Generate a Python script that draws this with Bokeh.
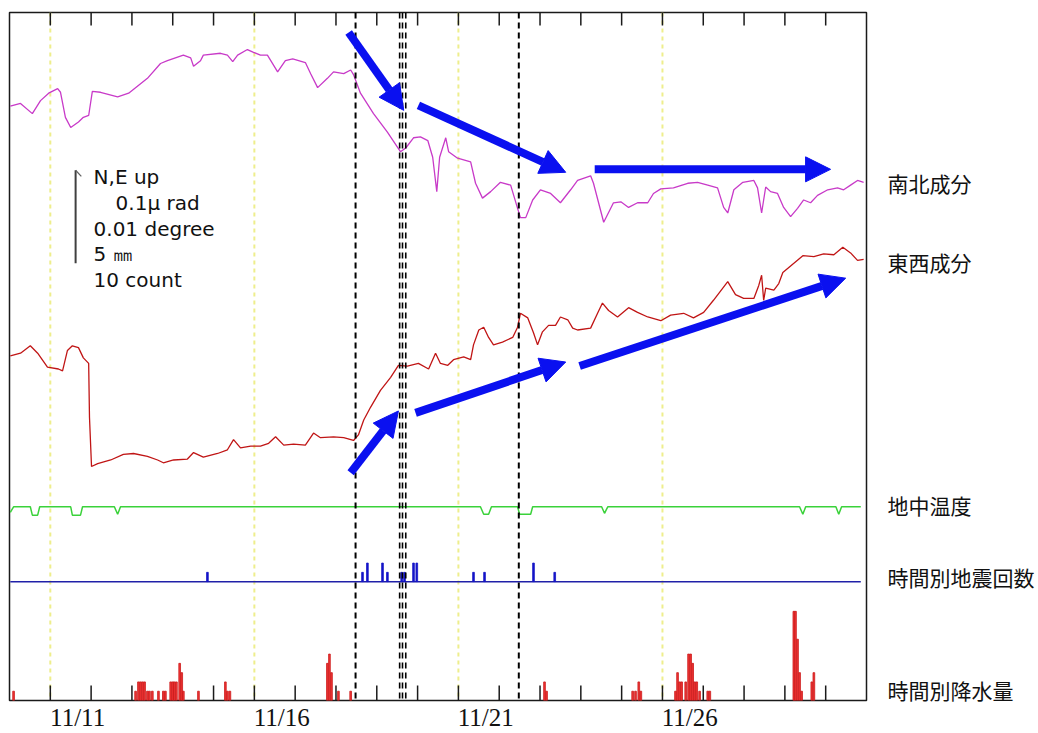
from bokeh.plotting import figure
from bokeh.models import Range1d, Span, Label, Arrow, NormalHead, LinearAxis, FixedTicker
from bokeh.embed import file_html
from bokeh.resources import INLINE

# Time axis: days counted from 11/10 00:00 (x = 1 -> 11/11 00:00)
day_labels = ["11/11", "11/16", "11/21", "11/26"]
day_label_pos = [1, 6, 11, 16]
tick_days = list(range(1, 21))

# Tilt, north-south component (nrad, relative to start)
ns_t = [0.02, 0.27, 0.56, 0.76, 0.96, 1.18, 1.25, 1.37, 1.50, 1.69, 1.81, 1.94, 2.03, 2.23, 2.65, 2.92,
        3.38, 3.70, 3.87, 4.26, 4.44, 4.51, 4.68, 4.75, 5.17, 5.34, 5.47, 5.59, 5.83, 5.98, 6.15, 6.32,
        6.57, 6.76, 6.94, 7.25, 7.38, 7.55, 7.79, 7.94, 8.19, 8.36, 8.43, 8.60, 8.92, 9.26, 9.58, 9.71,
        9.90, 10.07, 10.25, 10.37, 10.47, 10.54, 10.69, 10.76, 10.98, 11.30, 11.42, 11.59, 11.79, 12.03,
        12.28, 12.45, 12.52, 12.65, 12.82, 13.01, 13.26, 13.50, 13.75, 13.92, 14.24, 14.31, 14.56, 14.80,
        14.98, 15.17, 15.39, 15.64, 15.78, 15.96, 16.27, 16.62, 16.86, 17.11, 17.35, 17.50, 17.60, 17.75,
        17.97, 18.24, 18.33, 18.43, 18.53, 18.65, 18.82, 18.97, 19.14, 19.31, 19.46, 19.63, 19.80, 20.05,
        20.29, 20.44, 20.61, 20.78, 20.93]
ns_v = [0, 3, -8, 6, 14, 19, 15, -12, -23, -17, -12, -10, 16, 15, 10, 14,
        30, 46, 49, 55, 52, 43, 49, 55, 57, 55, 48, 55, 61, 58, 55, 55,
        37, 49, 51, 47, 35, 20, 30, 37, 35, 39, 34, 14, -8, -28, -49, -45,
        -34, -33, -37, -55, -92, -55, -34, -49, -56, -60, -83, -99, -92, -82,
        -85, -110, -120, -120, -101, -90, -94, -104, -90, -80, -75, -83, -125, -104,
        -103, -109, -104, -104, -94, -89, -88, -83, -82, -85, -88, -109, -115, -90,
        -82, -80, -88, -115, -87, -92, -94, -109, -119, -110, -101, -104, -96, -90,
        -88, -90, -85, -80, -82]

# Tilt, east-west component (nrad, relative to start)
ew_t = [0.02, 0.27, 0.51, 0.69, 0.93, 1.20, 1.30, 1.42, 1.54, 1.69, 1.81, 1.94, 1.96, 2.01, 2.16, 2.48,
        2.79, 3.04, 3.38, 3.63, 3.77, 4.02, 4.36, 4.51, 4.75, 5.10, 5.34, 5.49, 5.66, 5.91, 6.15, 6.35,
        6.52, 6.72, 6.96, 7.25, 7.45, 7.62, 7.94, 8.19, 8.43, 8.55, 8.68, 8.85, 9.09, 9.34, 9.53, 9.75,
        10.02, 10.27, 10.44, 10.56, 10.74, 10.88, 11.13, 11.30, 11.37, 11.50, 11.62, 11.74, 11.86, 12.08,
        12.33, 12.45, 12.52, 12.70, 12.84, 12.94, 13.06, 13.21, 13.38, 13.50, 13.68, 13.80, 13.92, 14.24,
        14.41, 14.53, 14.68, 14.90, 15.17, 15.39, 15.64, 15.96, 16.20, 16.52, 16.76, 17.01, 17.25, 17.60,
        17.79, 17.99, 18.24, 18.36, 18.43, 18.48, 18.53, 18.73, 18.85, 18.95, 19.14, 19.44, 19.71, 19.95,
        20.20, 20.42, 20.61, 20.78, 20.93]
ew_v = [0, 3, 11, 3, -12, -14, -16, 6, 11, 9, -2, -8, -66, -119, -116, -112,
        -106, -105, -108, -112, -115, -112, -111, -104, -109, -105, -101, -90, -99, -97, -97, -94,
        -87, -96, -95, -96, -83, -88, -87, -88, -91, -85, -69, -55, -37, -23, -10, -11,
        -8, -14, 3, -8, -10, -4, -1, -4, 12, 28, 31, 20, 12, 15,
        20, 31, 46, 41, 25, 12, 26, 33, 33, 42, 39, 30, 28, 30,
        46, 57, 49, 42, 52, 47, 42, 38, 44, 46, 41, 47, 60, 80,
        66, 62, 62, 76, 87, 60, 73, 71, 78, 90, 97, 108, 107, 110,
        109, 117, 111, 103, 104]

# Ground temperature (deg C, deviation from base level)
temp_t = [0.02, 0.10, 0.51, 0.56, 0.69, 0.74, 1.50, 1.54, 1.74, 1.79, 2.57, 2.65, 2.72,
          11.54, 11.62, 11.74, 11.81, 12.45, 12.50, 12.77, 12.82, 14.51, 14.58, 14.66,
          19.36, 19.44, 19.51, 20.25, 20.32, 20.39, 20.86]
temp_v = [-0.0006, 0, 0, -0.0009, -0.0009, 0, 0, -0.0009, -0.0009, 0, 0, -0.0008, 0,
          0, -0.0008, -0.0008, 0, 0, -0.0008, -0.0008, 0, 0, -0.0007, 0,
          0, -0.0008, 0, 0, -0.0008, 0, 0]

# Hourly earthquake counts
quake_t = [4.85, 8.65, 8.77, 9.14, 9.26, 9.61, 9.68, 9.90, 9.98, 11.37, 11.64, 12.84, 13.36]
quake_n = [1, 1, 2, 2, 1, 1, 1, 2, 2, 1, 1, 2, 1]

# Hourly precipitation (mm)
rain_t = [0.10, 3.09, 3.16, 3.21, 3.26, 3.31, 3.38, 3.43, 3.50, 3.65, 3.77, 3.82, 3.95, 4.00, 4.04,
          4.09, 4.17, 4.22, 4.26, 4.63, 5.29, 5.34, 5.40, 7.79, 7.84, 7.89, 8.06, 8.36,
          13.11, 13.16, 15.27, 15.34, 15.42, 15.47, 16.32, 16.37, 16.42, 16.47, 16.57, 16.64, 16.69,
          16.74, 16.79, 16.84, 16.91, 17.11, 17.16, 19.22, 19.26, 19.31, 19.36, 19.41, 19.66, 19.71]
rain_mm = [0.5, 0.5, 1.0, 1.0, 1.0, 1.0, 0.5, 0.5, 0.5, 0.5, 0.5, 0.5, 1.0, 1.0, 1.0,
           1.0, 2.0, 1.5, 0.5, 0.5, 1.0, 0.5, 0.5, 2.0, 2.5, 1.5, 0.5, 0.5,
           1.0, 0.5, 0.5, 0.5, 1.0, 0.5, 0.5, 1.5, 1.0, 1.0, 1.0, 2.5, 2.5,
           2.0, 1.0, 1.0, 0.5, 0.5, 0.5, 4.8, 4.8, 3.3, 1.5, 0.5, 1.0, 1.5]

# Trace names and the level where each one is written (chart units)
trace_names = ["南北成分", "東西成分", "地中温度", "時間別地震回数", "時間別降水量"]
name_levels = [557.0, 472.0, 210.8, 133.3, 11.8]

# Vertical scale: the scale bar is 100 units tall and stands for
# 0.1 urad / 0.01 degree / 5 mm / 10 count
UNIT_PER_NRAD = 1.0
UNIT_PER_DEG = 10000.0
UNIT_PER_MM = 20.0
UNIT_PER_COUNT = 10.0

# Baselines of the stacked traces
NS_BASE = 640.0
EW_BASE = 371.0
TEMP_BASE = 208.6
QUAKE_BASE = 128.0
RAIN_BASE = 0.0
Y_TOP = 740.9

HOUR = 1.0 / 24.0
PX_Y = 0.93          # screen pixels per chart unit
LABEL_SHIFT = 0.67   # date text starts at midnight of its day

p = figure(width=1038, height=733, x_range=Range1d(0, 21), y_range=Range1d(0, Y_TOP),
           output_backend="svg", toolbar_location=None,
           x_axis_location=None, y_axis_location=None,
           min_border_left=9, min_border_right=172, min_border_top=12, min_border_bottom=32)
p.grid.visible = False
p.background_fill_color = "white"
p.border_fill_color = "white"
p.outline_line_color = "#1a1a1a"
p.outline_line_width = 1.5

# Date labels
label_ticks = [d + LABEL_SHIFT for d in day_label_pos]
date_axis = LinearAxis(ticker=FixedTicker(ticks=label_ticks),
                       major_label_overrides={t: s for t, s in zip(label_ticks, day_labels)},
                       major_tick_in=0, major_tick_out=0, minor_tick_line_color=None,
                       major_tick_line_color=None, axis_line_color=None,
                       major_label_standoff=3, major_label_text_font="Liberation Serif",
                       major_label_text_font_size="25px", major_label_text_color="#111111")
p.add_layout(date_axis, "below")

# Trace names on the right
name_axis = LinearAxis(ticker=FixedTicker(ticks=name_levels),
                       major_label_overrides={t: s for t, s in zip(name_levels, trace_names)},
                       major_tick_in=0, major_tick_out=0, minor_tick_line_color=None,
                       major_tick_line_color=None, axis_line_color=None,
                       major_label_standoff=21, major_label_text_font="Noto Sans CJK JP",
                       major_label_text_font_size="21px", major_label_text_color="#111111")
p.add_layout(name_axis, "right")

# Day ticks along the bottom and top edges, pointing into the frame
p.segment(x0=tick_days, x1=tick_days, y0=[0] * len(tick_days), y1=[15 / PX_Y] * len(tick_days),
          line_color="#1a1a1a", line_width=1.5)
p.segment(x0=tick_days, x1=tick_days, y0=[Y_TOP] * len(tick_days),
          y1=[Y_TOP - 13 / PX_Y] * len(tick_days), line_color="#1a1a1a", line_width=1.5)

# Five-day guide lines
for d in day_label_pos:
    p.add_layout(Span(location=d, dimension="height", line_color="#eeee8c", line_width=2,
                      line_dash="4 4", level="underlay"))

# Traces
p.line(ns_t, [NS_BASE + v * UNIT_PER_NRAD for v in ns_v], line_color="#c83ac8", line_width=1.3)
p.line(ew_t, [EW_BASE + v * UNIT_PER_NRAD for v in ew_v], line_color="#c01515", line_width=1.3)
p.line(temp_t, [TEMP_BASE + v * UNIT_PER_DEG for v in temp_v], line_color="#3ad23a", line_width=1.5)

p.line([temp_t[0], temp_t[-1]], [QUAKE_BASE, QUAKE_BASE], line_color="#2020a8", line_width=1.5)
p.vbar(x=quake_t, width=HOUR, bottom=QUAKE_BASE,
       top=[QUAKE_BASE + n * UNIT_PER_COUNT for n in quake_n],
       fill_color="#1515c8", line_color="#1515c8", line_width=0.8)

p.vbar(x=rain_t, width=HOUR, bottom=RAIN_BASE,
       top=[RAIN_BASE + r * UNIT_PER_MM for r in rain_mm],
       fill_color="#f03535", line_color="#cc1a1a", line_width=0.8)

# Event markers
for d, w in ((8.48, 2), (9.56, 1.6), (9.63, 1.6), (9.71, 1.6), (12.48, 2)):
    p.add_layout(Span(location=d, dimension="height", line_color="black", line_width=w,
                      line_dash="6 4"))

# Scale bar
SCALE_X = 1.62
SCALE_TOP = 571.0
p.line([SCALE_X, SCALE_X], [SCALE_TOP - 100, SCALE_TOP], line_color="#404040", line_width=2)
p.line([SCALE_X, SCALE_X + 0.14], [SCALE_TOP, SCALE_TOP - 6.5], line_color="#606060", line_width=1.2)

scale_texts = [("N,E  up", 2.06, 563.4), ("0.1μ rad", 2.60, 535.5), ("0.01 degree", 2.06, 507.5),
               ("5 ㎜", 2.06, 480.6), ("10 count", 2.06, 452.7)]
for txt, x, y in scale_texts:
    p.add_layout(Label(x=x, y=y, text=txt, text_font="DejaVu Sans", text_font_size="20px",
                       text_baseline="middle", text_align="left", text_color="#111111"))

# Trend arrows
BLUE = "#0a10f0"
arrows = [(8.31, 719.4, 9.66, 635.5), (10.02, 640.9, 13.63, 568.8), (14.34, 572.0, 20.12, 572.0),
          (8.36, 245.2, 9.53, 311.8), (9.95, 309.7, 13.63, 364.5), (13.97, 360.2, 20.49, 454.8)]
for x0, y0, x1, y1 in arrows:
    p.add_layout(Arrow(end=NormalHead(size=25, fill_color=BLUE, line_color=BLUE, line_width=1),
                       x_start=x0, y_start=y0, x_end=x1, y_end=y1,
                       line_color=BLUE, line_width=8))

open("out.html", "w").write(file_html(p, INLINE))
